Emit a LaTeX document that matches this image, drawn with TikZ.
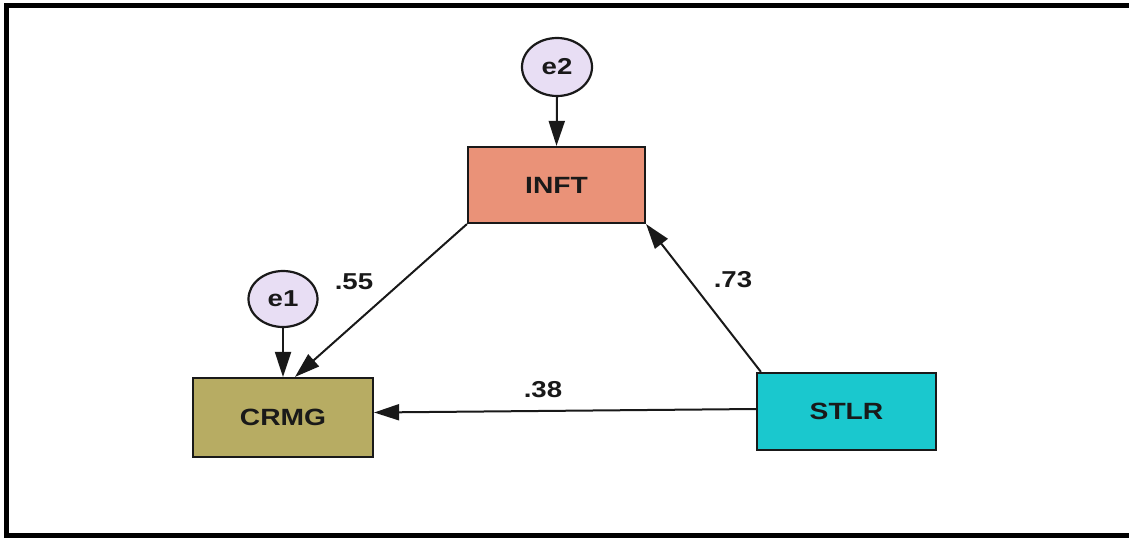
\documentclass[tikz,border=0pt]{standalone}
\usepackage{fontspec}
\setmainfont{Liberation Sans}
\usetikzlibrary{arrows.meta,shapes.geometric,calc}
\definecolor{inftc}{RGB}{234,146,120}
\definecolor{crmgc}{RGB}{183,172,99}
\definecolor{stlrc}{RGB}{26,200,206}
\definecolor{errc}{RGB}{232,222,244}
\definecolor{inkc}{RGB}{25,25,25}
\newcommand{\wtxt}[1]{\scalebox{1.2}[1]{#1}}
\tikzset{
  varbox/.style={draw=inkc,line width=2.2pt,rectangle,font=\bfseries\fontsize{23.5}{23.5}\selectfont,text=inkc},
  errnode/.style={draw=inkc,line width=2.2pt,ellipse,fill=errc,font=\bfseries\fontsize{23}{23}\selectfont,text=inkc,inner sep=0pt},
  sempath/.style={draw=inkc,line width=2pt,-{Triangle[length=25pt,width=16pt]}},
  coef/.style={font=\bfseries\fontsize{23}{23}\selectfont,text=inkc}
}
\begin{document}
\begin{tikzpicture}[x=1pt,y=-1pt]
\useasboundingbox (0,0) rectangle (1129,538);
\draw[line width=5.5pt,black] (1129,5.5) -- (6.5,5.5) -- (6.5,535.5) -- (1129,535.5);
\node[varbox,fill=inftc,minimum width=177pt,minimum height=76pt] (INFT) at (556.5,185) {\wtxt{INFT}};
\node[varbox,fill=crmgc,minimum width=180pt,minimum height=79pt] (CRMG) at (283,417.5) {\wtxt{CRMG}};
\node[varbox,fill=stlrc,minimum width=179pt,minimum height=77pt] (STLR) at (846.5,411.5) {\wtxt{STLR}};
\node[errnode,minimum width=70pt,minimum height=58pt] (e2) at (557,67) {\wtxt{e2}};
\node[errnode,minimum width=69pt,minimum height=56pt] (e1) at (283,299) {\wtxt{e1}};
\draw[sempath] (e2.south) -- (INFT.north);
\draw[sempath] (e1.south) -- (CRMG.north);
\draw[sempath] (INFT.south west) -- ($(CRMG.north)+(12,0)$);
\draw[sempath] ($(STLR.north west)+(5,0)$) -- (INFT.south east);
\draw[sempath] ($(STLR.west)+(0,-2.5)$) -- ($(CRMG.east)+(0,-5)$);
\node[coef] (l55) at (354,282) {\wtxt{.55}};
\node[coef] (l73) at (733,280) {\wtxt{.73}};
\node[coef] (l38) at (543,390) {\wtxt{.38}};
\end{tikzpicture}
\end{document}
